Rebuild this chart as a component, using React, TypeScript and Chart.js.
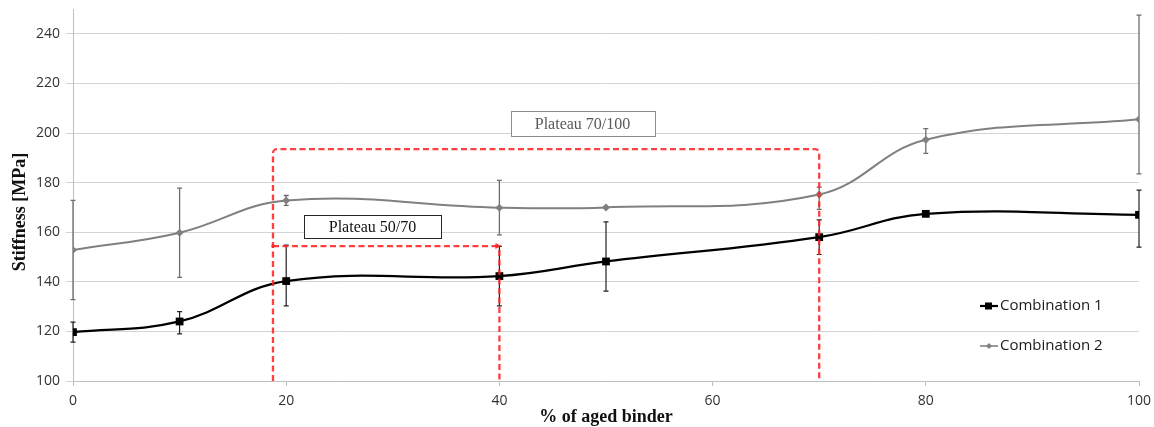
import React, { useEffect, useRef } from 'react';
import { Chart, registerables } from 'chart.js';

Chart.register(...registerables);

// ---- data ----
const xValues = [0, 10, 20, 40, 50, 70, 80, 100];
const combo1Label = 'Combination 1';
const combo1Values = [119.7, 124, 140.3, 142.3, 148.2, 158, 167.4, 167];
const combo1ErrPlus = [4, 4, 14.5, 12, 16, 7, 1, 10];
const combo1ErrMinus = [4, 5, 10, 12, 12, 7, 1, 13];
const combo2Label = 'Combination 2';
const combo2Values = [152.8, 159.8, 172.8, 169.9, 170, 175.2, 197.3, 205.5];
const combo2ErrPlus = [20, 18, 2, 11, 0, 3, 4.5, 42];
const combo2ErrMinus = [20, 18, 2, 11, 0, 6, 5.5, 22];
const xTickValues = [0, 20, 40, 60, 80, 100];
const yTickValues = [100, 120, 140, 160, 180, 200, 220, 240];
const xTitle = '% of aged binder';
const yTitle = 'Stiffness [MPa]';

// plateau annotations (data units)
const plateauStartX = 18.76;
const plateau1EndX = 70;
const plateau1Level = 193.5;
const plateau1Text = 'Plateau 70/100';
const plateau1LabelAt = [47.8, 203.7];
const plateau2EndX = 40;
const plateau2Level = 154.4;
const plateau2Text = 'Plateau 50/70';
const plateau2LabelAt = [28.1, 162.2];

const toPoints = (vals: number[]) => vals.map((v, i) => ({ x: xValues[i], y: v }));

const extrasPlugin = {
  id: 'extras',
  beforeDatasetsDraw(chart: any) {
    const { ctx, scales } = chart;
    const xs = scales.x;
    const ys = scales.y;
    const drawErr = (vals: number[], plus: number[], minus: number[], color: string, w: number) => {
      ctx.save();
      ctx.strokeStyle = color;
      ctx.lineWidth = w;
      vals.forEach((v, i) => {
        if (!plus[i] && !minus[i]) return;
        const px = xs.getPixelForValue(xValues[i]);
        const yt = ys.getPixelForValue(v + plus[i]);
        const yb = ys.getPixelForValue(v - minus[i]);
        ctx.beginPath();
        ctx.moveTo(px, yt);
        ctx.lineTo(px, yb);
        ctx.moveTo(px - 2.5, yt);
        ctx.lineTo(px + 2.5, yt);
        ctx.moveTo(px - 2.5, yb);
        ctx.lineTo(px + 2.5, yb);
        ctx.stroke();
      });
      ctx.restore();
    };
    drawErr(combo2Values, combo2ErrPlus, combo2ErrMinus, '#6e6e6e', 1.3);
    drawErr(combo1Values, combo1ErrPlus, combo1ErrMinus, '#222222', 1.2);
  },
  afterDatasetsDraw(chart: any) {
    const { ctx, scales } = chart;
    const xs = scales.x;
    const ys = scales.y;
    const yBottom = ys.getPixelForValue(100);
    const xL = xs.getPixelForValue(plateauStartX);

    ctx.save();
    ctx.strokeStyle = 'rgba(255,35,35,0.88)';
    ctx.lineWidth = 2.3;
    ctx.setLineDash([6, 3.5]);
    ctx.lineJoin = 'round';
    // big plateau
    const x1 = xs.getPixelForValue(plateau1EndX);
    const y1 = ys.getPixelForValue(plateau1Level);
    ctx.beginPath();
    ctx.moveTo(xL, yBottom);
    ctx.arcTo(xL, y1, x1, y1, 4);
    ctx.arcTo(x1, y1, x1, yBottom, 4);
    ctx.lineTo(x1, yBottom);
    ctx.stroke();
    // small plateau
    const x2 = xs.getPixelForValue(plateau2EndX);
    const y2 = ys.getPixelForValue(plateau2Level);
    ctx.beginPath();
    ctx.moveTo(xL, y2);
    ctx.lineTo(x2 - 2, y2);
    ctx.stroke();
    ctx.beginPath();
    ctx.moveTo(x2, y2 + 4);
    ctx.lineTo(x2, yBottom);
    ctx.stroke();
    ctx.setLineDash([]);
    ctx.fillStyle = 'rgba(255,35,35,0.88)';
    ctx.beginPath();
    ctx.moveTo(x2 + 2, y2);
    ctx.lineTo(x2 - 4, y2 - 3);
    ctx.lineTo(x2 - 4, y2 + 3);
    ctx.closePath();
    ctx.fill();
    ctx.beginPath();
    ctx.arc(xL, y2, 1.8, 0, Math.PI * 2);
    ctx.fill();
    ctx.restore();

    // label boxes
    const drawBox = (text: string, at: number[], w: number, h: number, border: string, color: string) => {
      const cx = xs.getPixelForValue(at[0]);
      const cy = ys.getPixelForValue(at[1]);
      ctx.save();
      ctx.fillStyle = '#ffffff';
      ctx.fillRect(Math.round(cx - w / 2) + 0.5, Math.round(cy - h / 2) + 0.5, w, h);
      ctx.strokeStyle = border;
      ctx.lineWidth = 1;
      ctx.strokeRect(Math.round(cx - w / 2) + 0.5, Math.round(cy - h / 2) + 0.5, w, h);
      ctx.fillStyle = color;
      ctx.font = '16px "Liberation Serif"';
      ctx.textAlign = 'center';
      ctx.textBaseline = 'middle';
      ctx.fillText(text, cx, cy + 1);
      ctx.restore();
    };
    drawBox(plateau1Text, plateau1LabelAt, 144, 25, '#8c8c8c', '#595959');
    drawBox(plateau2Text, plateau2LabelAt, 137, 23, '#262626', '#111111');

    // legend
    const drawLegend = (label: string, y: number, color: string, style: string, lw: number) => {
      ctx.save();
      ctx.strokeStyle = color;
      ctx.fillStyle = color;
      ctx.lineWidth = lw;
      ctx.beginPath();
      ctx.moveTo(980, y);
      ctx.lineTo(998, y);
      ctx.stroke();
      if (style === 'rect') {
        ctx.fillRect(985, y - 3.5, 7, 7);
      } else {
        ctx.beginPath();
        ctx.moveTo(989, y - 3);
        ctx.lineTo(992, y);
        ctx.lineTo(989, y + 3);
        ctx.lineTo(986, y);
        ctx.closePath();
        ctx.fill();
      }
      ctx.fillStyle = '#1a1a1a';
      ctx.font = '15px "Open Sans"';
      ctx.textAlign = 'left';
      ctx.textBaseline = 'middle';
      ctx.fillText(label, 1000, y);
      ctx.restore();
    };
    drawLegend(combo1Label, 306, '#000000', 'rect', 2.2);
    drawLegend(combo2Label, 346, '#808080', 'diamond', 1.6);
  },
  afterDraw(chart: any) {
    const { ctx, chartArea } = chart;
    ctx.save();
    ctx.fillStyle = '#111111';
    ctx.font = 'bold 18px "Liberation Serif"';
    ctx.textAlign = 'center';
    ctx.textBaseline = 'middle';
    ctx.fillText(xTitle, (chartArea.left + chartArea.right) / 2, 417);
    ctx.translate(20, 212);
    ctx.rotate(-Math.PI / 2);
    ctx.fillText(yTitle, 0, 0);
    ctx.restore();
  },
};

export default function App() {
  const canvasRef = useRef<HTMLCanvasElement | null>(null);

  useEffect(() => {
    if (!canvasRef.current) return;
    const tickFont = { family: '"Open Sans"', size: 14 };
    const chart = new Chart(canvasRef.current, {
      type: 'line',
      data: {
        datasets: [
          {
            label: combo1Label,
            data: toPoints(combo1Values),
            borderColor: '#000000',
            backgroundColor: '#000000',
            borderWidth: 2.3,
            pointStyle: 'rect',
            pointRadius: 5.5,
            pointBorderWidth: 0,
            pointBackgroundColor: '#000000',
            tension: 0.4,
            order: 1,
          },
          {
            label: combo2Label,
            data: toPoints(combo2Values),
            borderColor: '#808080',
            backgroundColor: '#808080',
            borderWidth: 2,
            pointStyle: 'rectRot',
            pointRadius: 4,
            pointBorderWidth: 0,
            pointBackgroundColor: '#808080',
            tension: 0.4,
            order: 2,
          },
        ],
      },
      options: {
        animation: false,
        responsive: false,
        layout: { padding: { top: 9, right: 15, left: 0, bottom: 0 } },
        plugins: {
          legend: { display: false },
          tooltip: { enabled: false },
          title: { display: false },
        },
        scales: {
          x: {
            type: 'linear',
            min: 0,
            max: 100,
            afterBuildTicks: (s: any) => {
              s.ticks = xTickValues.map((v) => ({ value: v }));
            },
            ticks: { font: tickFont, color: '#333333', padding: 7, maxRotation: 0 },
            grid: { drawOnChartArea: false, drawTicks: true, tickLength: 5, color: '#bfbfbf' },
            border: { display: true, color: '#bfbfbf' },
            afterFit: (s: any) => {
              s.height = 46;
              s.paddingLeft = 0;
              s.paddingRight = 0;
            },
          },
          y: {
            type: 'linear',
            min: 100,
            max: 250,
            afterBuildTicks: (s: any) => {
              s.ticks = yTickValues.map((v) => ({ value: v }));
            },
            ticks: { font: tickFont, color: '#333333', padding: 6 },
            grid: { color: '#d4d4d4', tickLength: 7, drawTicks: true },
            border: { display: true, color: '#bfbfbf' },
            afterFit: (s: any) => {
              s.width = 73;
              s.paddingTop = 0;
              s.paddingBottom = 0;
            },
          },
        },
      },
      plugins: [extrasPlugin],
    } as any);
    return () => chart.destroy();
  }, []);

  return (
    <div style={{ position: 'absolute', left: 0, top: 0, width: 1154, height: 427, background: '#ffffff' }}>
      <canvas ref={canvasRef} width={1154} height={427} />
    </div>
  );
}
